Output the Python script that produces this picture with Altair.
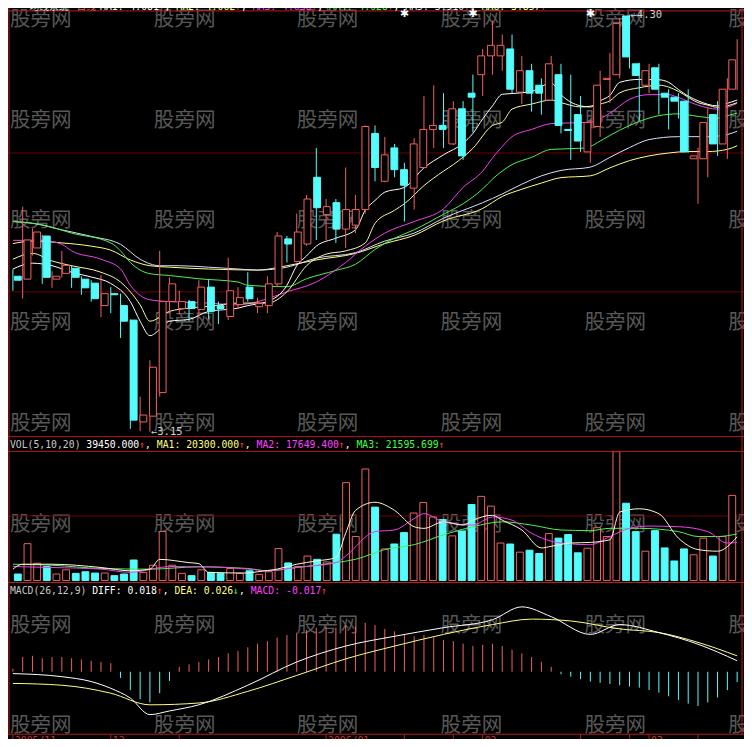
import altair as alt
import pandas as pd

# ---------------- data ----------------
OPEN = [3.579, 3.571, 3.657, 3.690, 3.571, 3.587, 3.601, 3.571, 3.560, 3.498,
        3.531, 3.498, 3.458, 3.177, 3.193, 3.258, 3.509, 3.490, 3.509, 3.487,
        3.549, 3.498, 3.468, 3.501, 3.549, 3.495, 3.498, 3.558, 3.682, 3.620,
        3.668, 3.852, 3.749, 3.782, 3.709, 3.720, 3.763, 3.973, 3.841, 3.933,
        3.873, 3.822, 3.879, 3.984, 3.995, 3.944, 4.041, 4.084, 4.135, 4.187,
        4.187, 4.206, 4.087, 4.146, 4.106, 4.065, 4.135, 3.984, 4.025, 3.922,
        3.992, 4.122, 4.135, 4.297, 4.165, 4.106, 4.154, 4.084, 4.073, 4.062,
        3.903, 3.903, 4.025, 3.944, 4.095]
HIGH = [3.598, 3.771, 3.711, 3.693, 3.593, 3.649, 3.609, 3.579, 3.568, 3.582,
        3.549, 3.531, 3.460, 3.247, 3.347, 3.649, 3.576, 3.539, 3.514, 3.568,
        3.571, 3.509, 3.630, 3.549, 3.590, 3.520, 3.579, 3.701, 3.690, 3.752,
        3.803, 3.933, 3.792, 3.792, 3.879, 3.803, 3.995, 3.995, 3.963, 3.944,
        3.892, 3.960, 4.076, 4.106, 4.084, 4.062, 4.062, 4.135, 4.206, 4.284,
        4.246, 4.246, 4.187, 4.165, 4.125, 4.187, 4.165, 4.135, 4.076, 4.014,
        4.146, 4.195, 4.292, 4.300, 4.168, 4.165, 4.165, 4.095, 4.084, 4.095,
        3.933, 4.044, 4.062, 4.125, 4.233]
LOW = [3.539, 3.517, 3.636, 3.558, 3.547, 3.576, 3.547, 3.528, 3.509, 3.466,
       3.477, 3.409, 3.158, 3.152, 3.150, 3.247, 3.477, 3.474, 3.455, 3.463,
       3.460, 3.447, 3.458, 3.490, 3.509, 3.477, 3.477, 3.549, 3.617, 3.617,
       3.663, 3.679, 3.679, 3.671, 3.657, 3.698, 3.752, 3.841, 3.838, 3.852,
       3.730, 3.763, 3.876, 3.933, 3.933, 3.941, 3.900, 3.976, 4.076, 4.135,
       4.146, 4.084, 4.054, 4.033, 4.025, 4.062, 3.973, 3.900, 3.922, 3.892,
       3.963, 4.057, 4.125, 4.152, 4.008, 4.084, 4.025, 3.984, 4.014, 3.920,
       3.779, 3.852, 3.911, 3.903, 4.093]
CLOSE = [3.568, 3.679, 3.701, 3.576, 3.579, 3.609, 3.576, 3.547, 3.517, 3.531,
         3.528, 3.455, 3.182, 3.196, 3.328, 3.509, 3.558, 3.509, 3.490, 3.549,
         3.482, 3.490, 3.539, 3.520, 3.517, 3.504, 3.558, 3.690, 3.668, 3.701,
         3.792, 3.768, 3.771, 3.709, 3.763, 3.763, 3.992, 3.879, 3.914, 3.873,
         3.830, 3.944, 3.984, 3.995, 3.984, 4.041, 3.911, 4.073, 4.187, 4.216,
         4.216, 4.095, 4.146, 4.084, 4.084, 4.165, 3.995, 3.981, 3.952, 4.003,
         4.106, 4.125, 4.276, 4.184, 4.133, 4.146, 4.095, 4.073, 4.062, 3.922,
         3.911, 4.003, 3.944, 4.095, 4.176]
VOLUME = [3020, 17080, 8010, 6500, 3020, 4990, 3330, 4080, 3480, 3480,
          2270, 3020, 9520, 3780, 7100, 22670, 7100, 3330, 2270, 4990,
          3780, 3330, 5590, 3330, 4530, 2870, 4080, 14810, 8160, 6500,
          11340, 9820, 8610, 21460, 45340, 20400, 51690, 34010, 14660, 16930,
          22220, 31280, 36120, 29470, 28260, 20700, 22970, 35220, 38990, 34460,
          17380, 16930, 13150, 14060, 12540, 21760, 19650, 21310, 12850, 14960,
          24480, 20400, 59700, 35820, 22670, 13600, 23120, 15110, 9070, 14660,
          11940, 19650, 11340, 20400, 39450]

# price moving averages (sampled along the drawn lines)
MA5_I = [0, 2, 4, 6, 8, 10, 12, 13, 14, 15, 16, 18, 20, 23, 24, 26, 28, 29, 30, 31,
         33, 35, 36, 37, 38, 40, 42, 44, 46, 47, 48, 49, 50, 51, 53, 55, 56, 58, 59, 60,
         61, 62, 64, 66, 67, 68, 69, 70, 72, 73, 74]
MA5_V = [3.599, 3.615, 3.608, 3.590, 3.577, 3.559, 3.509, 3.455, 3.415, 3.432,
         3.455, 3.460, 3.482, 3.491, 3.498, 3.509, 3.554, 3.608, 3.635, 3.662,
         3.684, 3.707, 3.761, 3.788, 3.811, 3.824, 3.878, 3.914, 3.946, 3.973,
         4.013, 4.049, 4.081, 4.083, 4.089, 4.112, 4.080, 4.049, 4.046, 4.063,
         4.078, 4.114, 4.122, 4.121, 4.114, 4.094, 4.076, 4.063, 4.049, 4.056, 4.065]
MA10_I = [0, 2, 4, 6, 9, 11, 13, 14, 16, 18, 20, 23, 26, 28, 30, 32, 34, 36, 37, 39,
          40, 42, 44, 45, 47, 49, 50, 51, 53, 55, 56, 58, 60, 61, 62, 64, 66, 67, 68, 70,
          71, 72, 73, 74]
MA10_V = [3.626, 3.642, 3.621, 3.608, 3.590, 3.563, 3.500, 3.455, 3.482, 3.491,
          3.496, 3.505, 3.505, 3.536, 3.608, 3.640, 3.649, 3.671, 3.725, 3.761,
          3.779, 3.829, 3.869, 3.887, 3.932, 3.995, 4.004, 4.040, 4.054, 4.065,
          4.058, 4.046, 4.054, 4.063, 4.085, 4.099, 4.106, 4.101, 4.089, 4.058,
          4.051, 4.045, 4.049, 4.058]
MA20_I = [0, 3, 5, 6, 9, 11, 12, 14, 16, 20, 23, 25, 28, 31, 34, 36, 38, 41, 44, 46,
          48, 49, 50, 51, 53, 55, 57, 59, 61, 63, 65, 67, 68, 70, 72, 73, 74]
MA20_V = [3.678, 3.678, 3.667, 3.649, 3.626, 3.599, 3.554, 3.514, 3.509, 3.505,
          3.500, 3.509, 3.536, 3.563, 3.617, 3.662, 3.698, 3.730, 3.765, 3.824,
          3.869, 3.905, 3.937, 3.964, 3.984, 4.000, 4.002, 4.004, 4.029, 4.067,
          4.080, 4.080, 4.072, 4.051, 4.040, 4.045, 4.056]
MA30_I = [0, 3, 6, 10, 11, 12, 14, 16, 19, 23, 24, 28, 30, 33, 35, 37, 39, 41, 44, 46,
          48, 49, 51, 53, 55, 58, 59, 60, 62, 64, 66, 68, 70, 72, 73, 74]
MA30_V = [3.730, 3.721, 3.698, 3.671, 3.649, 3.617, 3.586, 3.581, 3.572, 3.563,
          3.554, 3.550, 3.572, 3.595, 3.612, 3.653, 3.684, 3.707, 3.750, 3.779,
          3.820, 3.847, 3.887, 3.907, 3.929, 3.932, 3.937, 3.952, 3.982, 4.006,
          4.022, 4.027, 4.020, 4.015, 4.022, 4.029]
MA60_I = [0, 2, 5, 8, 11, 13, 15, 17, 20, 23, 25, 28, 31, 35, 38, 41, 44, 48, 50, 52,
          54, 56, 59, 61, 63, 65, 68, 71, 73, 74]
MA60_V = [3.730, 3.725, 3.707, 3.689, 3.667, 3.626, 3.608, 3.608, 3.604, 3.599,
          3.596, 3.604, 3.629, 3.644, 3.676, 3.698, 3.739, 3.782, 3.806, 3.833,
          3.856, 3.871, 3.880, 3.907, 3.934, 3.956, 3.964, 3.964, 3.970, 3.979]
MA120_I = [0, 2, 5, 8, 10, 12, 14, 16, 20, 25, 28, 31, 35, 38, 41, 44, 48, 50, 52, 54,
           56, 59, 61, 63, 65, 67, 69, 71, 73, 74]
MA120_V = [3.669, 3.676, 3.671, 3.662, 3.651, 3.624, 3.608, 3.604, 3.599, 3.596,
           3.608, 3.624, 3.642, 3.669, 3.692, 3.732, 3.766, 3.799, 3.819, 3.836,
           3.851, 3.856, 3.878, 3.898, 3.911, 3.919, 3.923, 3.923, 3.929, 3.939]
PRICE_GRID = [3.919, 3.536]

# volume moving averages
VMA5_I = [0, 1, 4, 9, 12, 14, 15, 18, 19, 20, 24, 25, 27, 29, 31, 33, 34, 35, 37, 39,
          41, 42, 44, 46, 47, 49, 50, 52, 54, 55, 57, 59, 61, 62, 64, 66, 68, 70, 72, 74]
VMA5_V = [5290, 7560, 7560, 6050, 4530, 5290, 9820, 8310, 7860, 3780,
          3480, 4080, 5290, 7560, 9070, 10580, 21910, 32490, 36270, 32490,
          24940, 24180, 27200, 25690, 27960, 30230, 27960, 23430, 15110, 15870,
          17380, 17680, 18890, 31740, 33250, 30980, 19650, 14360, 13600, 20300]
VMA10_I = [0, 4, 9, 12, 16, 20, 24, 26, 29, 33, 34, 37, 39, 41, 42, 44, 47, 49, 51, 53,
           56, 59, 61, 63, 65, 68, 71, 73, 74]
VMA10_V = [6500, 6050, 5290, 3780, 6500, 6350, 5290, 4530, 6050, 8310,
           11340, 22670, 23430, 28710, 30980, 27200, 25690, 29470, 27960, 21910,
           17380, 16630, 20400, 24180, 25240, 24940, 22670, 17380, 17650]
VMA20_I = [0, 4, 9, 14, 19, 24, 26, 29, 33, 35, 38, 41, 44, 47, 50, 53, 56, 59, 61, 64,
           68, 70, 72, 74]
VMA20_V = [7560, 7100, 5590, 5290, 6350, 5590, 4530, 6050, 8310, 9820,
           14360, 16630, 21160, 24940, 27200, 25690, 23430, 23120, 24180, 24180,
           22670, 20400, 20400, 21596]
VOL_GRID = [29925]

# MACD
DIFF_I = [0, 5, 8, 10, 12, 14, 16, 19, 24, 29, 34, 39, 44, 49, 52, 55, 59, 62, 66, 70, 74]
DIFF_V = [-0.003, -0.008, -0.016, -0.027, -0.043, -0.070, -0.064, -0.054, -0.022, 0.016,
          0.042, 0.058, 0.072, 0.085, 0.106, 0.090, 0.061, 0.077, 0.064, 0.045, 0.018]
DEA_I = [0, 5, 10, 14, 19, 24, 29, 34, 39, 44, 49, 53, 57, 62, 66, 70, 74]
DEA_V = [-0.019, -0.022, -0.035, -0.054, -0.051, -0.032, -0.006, 0.021, 0.042, 0.061,
         0.077, 0.086, 0.083, 0.070, 0.064, 0.048, 0.026]
MACD_HIST = [0.005, 0.024, 0.026, 0.022, 0.024, 0.024, 0.022, 0.020, 0.018, 0.016,
             0.014, -0.010, -0.030, -0.045, -0.050, -0.035, -0.015, 0.008, 0.012, 0.016,
             0.020, 0.024, 0.030, 0.034, 0.040, 0.046, 0.050, 0.056, 0.060, 0.064,
             0.068, 0.072, 0.074, 0.072, 0.076, 0.074, 0.080, 0.076, 0.070, 0.066,
             0.060, 0.058, 0.060, 0.056, 0.052, 0.050, 0.046, 0.042, 0.044, 0.046,
             0.042, 0.036, 0.030, 0.024, 0.016, 0.008, -0.004, -0.008, -0.012, -0.016,
             -0.018, -0.020, -0.022, -0.024, -0.026, -0.030, -0.034, -0.040, -0.046, -0.052,
             -0.056, -0.050, -0.042, -0.030, -0.017]

STAR_IDX = [40, 47, 59]

# date axis (candle index of each tick / label)
DATE_TICK_I = [0, 10, 17, 32, 40, 45, 48, 58, 63, 65, 70]
DATE_LABEL_I = [0, 10, 32, 48, 65]
DATE_LABELS = ["2005/11", "12", "2006/01", "02", "03"]

PRICE_HEAD = [("MA1: 4.081", "#ffffff"), ("↑", "#ff4040"), (", ", "#ffffff"),
              ("MA2: 4.062", "#ffff80"), ("↑", "#ff4040"), (", ", "#ffffff"),
              ("MA3: 4.058", "#ff40ff"), ("↑", "#ff4040"), (", ", "#ffffff"),
              ("MA4: 4.028", "#40ff40"), ("↑", "#ff4040"), (", ", "#ffffff"),
              ("MA5: 3.910", "#e0e0ff"), ("↑", "#ff4040"), (", ", "#ffffff"),
              ("MA6: 3.857", "#ffff80"), ("↑", "#ff4040")]
VOL_HEAD = [("VOL(5,10,20) ", "#c8c8c8"), ("39450.000", "#ffffff"), ("↑", "#ff4040"),
            (", ", "#ffffff"), ("MA1: 20300.000", "#ffff80"), ("↑", "#ff4040"),
            (", ", "#ffffff"), ("MA2: 17649.400", "#ff40ff"), ("↑", "#ff4040"),
            (", ", "#ffffff"), ("MA3: 21595.699", "#40ff40"), ("↑", "#ff4040")]
MACD_HEAD = [("MACD(26,12,9) ", "#c8c8c8"), ("DIFF: 0.018", "#ffffff"), ("↑", "#ff4040"),
             (", ", "#ffffff"), ("DEA: 0.026", "#ffff80"), ("↓", "#40ff40"),
             (", ", "#ffffff"), ("MACD: -0.017", "#ff40ff"), ("↑", "#ff4040")]

# ---------------- layout / style ----------------
W, H = 736, 731
S = W / 752.0
RED = "#f06060"
CYAN = "#54fcfc"
BORDER = "#b41e1e"
GRID = "#6e0000"
MONO = "DejaVu Sans Mono, Noto Sans CJK SC"

XS = alt.Scale(domain=[-0.5, 74.7], range=[0, W], nice=False, zero=False)
PS = alt.Scale(domain=[3.1364, 4.319], range=[438 * S, 0], nice=False, zero=False)
VS = alt.Scale(domain=[0, 59850], range=[585 * S, 453 * S], nice=False, zero=False)
MS = alt.Scale(domain=[-0.102, 0.117], range=[742 * S, 605 * S], nice=False, zero=False)


def X(f="i"):
    return alt.X(f"{f}:Q", scale=XS, axis=None)


def Y(f, sc):
    return alt.Y(f"{f}:Q", scale=sc, axis=None)


n = len(OPEN)
up = [c >= o for o, c in zip(OPEN, CLOSE)]
cdf = pd.DataFrame({
    "i": list(range(n)), "o": OPEN, "h": HIGH, "l": LOW, "c": CLOSE, "v": VOLUME,
    "z": [0] * n,
    "edge": [RED if u else CYAN for u in up],
    "fill": ["#000000" if u else CYAN for u in up],
})

layers = []

# watermarks
WM_COLS = [2, 149, 295, 442, 589, 736]
WM_ROWS = [12, 115, 218, 322, 425, 528, 631, 734]
wm = pd.DataFrame([{"px": c * S, "py": r * S, "t": "股旁网"} for r in WM_ROWS for c in WM_COLS])
layers.append(alt.Chart(wm).mark_text(align="left", baseline="middle", font="Noto Sans CJK SC",
                                      fontSize=21 * S, color="#585858").encode(
    x=alt.X("px:Q", scale=None, axis=None), y=alt.Y("py:Q", scale=None, axis=None), text="t:N"))

# grid lines
layers.append(alt.Chart(pd.DataFrame({"g": PRICE_GRID})).mark_rule(color=GRID, strokeWidth=1).encode(
    y=Y("g", PS), x=alt.value(0), x2=alt.value(W)))
layers.append(alt.Chart(pd.DataFrame({"g": VOL_GRID})).mark_rule(color=GRID, strokeWidth=1).encode(
    y=Y("g", VS), x=alt.value(0), x2=alt.value(W)))


def line(I, V, sc, color):
    return alt.Chart(pd.DataFrame({"i": I, "v": V})).mark_line(
        color=color, strokeWidth=1, interpolate="monotone").encode(x=X(), y=Y("v", sc))


# price MA lines
layers += [line(MA120_I, MA120_V, PS, "#ffff80"), line(MA60_I, MA60_V, PS, "#dcdcff"),
           line(MA30_I, MA30_V, PS, "#50f050"), line(MA20_I, MA20_V, PS, "#f040f0"),
           line(MA10_I, MA10_V, PS, "#f8f8a8"), line(MA5_I, MA5_V, PS, "#ffffff")]

# candles
layers.append(alt.Chart(cdf).mark_rule(strokeWidth=1).encode(
    x=X(), y=Y("l", PS), y2=alt.Y2("h"), color=alt.Color("edge:N", scale=None)))
layers.append(alt.Chart(cdf).mark_bar(size=7 * S, strokeWidth=1).encode(
    x=X(), y=Y("o", PS), y2=alt.Y2("c"),
    fill=alt.Fill("fill:N", scale=None), stroke=alt.Stroke("edge:N", scale=None)))

# volume
layers.append(alt.Chart(cdf).mark_bar(size=7 * S, strokeWidth=1).encode(
    x=X(), y=Y("v", VS), y2=alt.Y2("z"),
    fill=alt.Fill("fill:N", scale=None), stroke=alt.Stroke("edge:N", scale=None)))
layers += [line(VMA20_I, VMA20_V, VS, "#50f050"), line(VMA10_I, VMA10_V, VS, "#f040f0"),
           line(VMA5_I, VMA5_V, VS, "#fafad2")]

# MACD
mdf = pd.DataFrame({"i": list(range(n)), "m": MACD_HIST, "z": [0] * n,
                    "col": [RED if m >= 0 else CYAN for m in MACD_HIST]})
layers.append(alt.Chart(mdf).mark_rule(strokeWidth=1).encode(
    x=X(), y=Y("m", MS), y2=alt.Y2("z"), color=alt.Color("col:N", scale=None)))
layers += [line(DEA_I, DEA_V, MS, "#ffff80"), line(DIFF_I, DIFF_V, MS, "#ffffff")]

# borders
for yy in [3, 438, 453, 587, 742]:
    layers.append(alt.Chart(pd.DataFrame({"k": [0]})).mark_rule(color=BORDER, strokeWidth=1).encode(
        x=alt.value(0), x2=alt.value(W), y=alt.value(yy * S)))
for xx in [1, 750]:
    layers.append(alt.Chart(pd.DataFrame({"k": [0]})).mark_rule(color=BORDER, strokeWidth=1).encode(
        y=alt.value(0), y2=alt.value(742 * S), x=alt.value(xx * S)))

# date axis ticks and (mostly cut-off) labels
layers.append(alt.Chart(pd.DataFrame({"i": DATE_TICK_I})).mark_rule(color=BORDER, strokeWidth=1).encode(
    x=X(), y=alt.value(742 * S), y2=alt.value(H)))
layers.append(alt.Chart(pd.DataFrame({"i": DATE_LABEL_I, "t": DATE_LABELS})).mark_text(
    align="left", baseline="top", font=MONO, fontSize=10 * S, color="#c83232", dx=2).encode(
    x=X(), y=alt.value(743.5 * S), text="t:N"))


# headers
def header(segs, x0, yy, clip=False, baseline="middle"):
    rows, k = [], 0
    for t, c in segs:
        rows.append({"t": t, "px": (x0 + 6 * k) * S, "col": c})
        k += len(t)
    return alt.Chart(pd.DataFrame(rows)).mark_text(
        align="left", baseline=baseline, font=MONO, fontSize=10 * S, clip=clip).encode(
        x=alt.X("px:Q", scale=None, axis=None), y=alt.value(yy * S), text="t:N",
        color=alt.Color("col:N", scale=None))


layers.append(header([("均线系统", "#e0e0e0")], 22, 4, clip=True, baseline="bottom"))
layers.append(header([("日线", RED)], 70, 4, clip=True, baseline="bottom"))
layers.append(header(PRICE_HEAD, 94, 4, clip=True, baseline="bottom"))
layers.append(header(VOL_HEAD, 2, 446))
layers.append(header(MACD_HEAD, 2, 596))

# stars
layers.append(alt.Chart(pd.DataFrame({"i": STAR_IDX, "t": ["✱"] * len(STAR_IDX)})).mark_text(
    font="DejaVu Sans", fontSize=11, color="#ffffff", baseline="middle").encode(
    x=X(), y=alt.value(6 * S), text="t:N"))

# high / low labels
lo_i = LOW.index(min(LOW))
hi_i = HIGH.index(max(HIGH))
lab = pd.DataFrame({"i": [lo_i, hi_i], "p": [LOW[lo_i], HIGH[hi_i]],
                    "t": [f"←{LOW[lo_i]:.2f}", f"←{HIGH[hi_i]:.2f}"]})
layers.append(alt.Chart(lab).mark_text(align="left", baseline="middle", font=MONO, fontSize=10.5,
                                       color="#d0d0d0", dx=1).encode(
    x=X(), y=Y("p", PS), text="t:N"))

chart = alt.layer(*layers).resolve_scale(x="independent", y="independent").properties(
    width=W, height=H, padding=0, background="#000000",
    autosize=alt.AutoSizeParams(type="none")).configure_view(strokeWidth=0)

chart.save("out.html", embed_options={"renderer": "svg", "actions": False})
